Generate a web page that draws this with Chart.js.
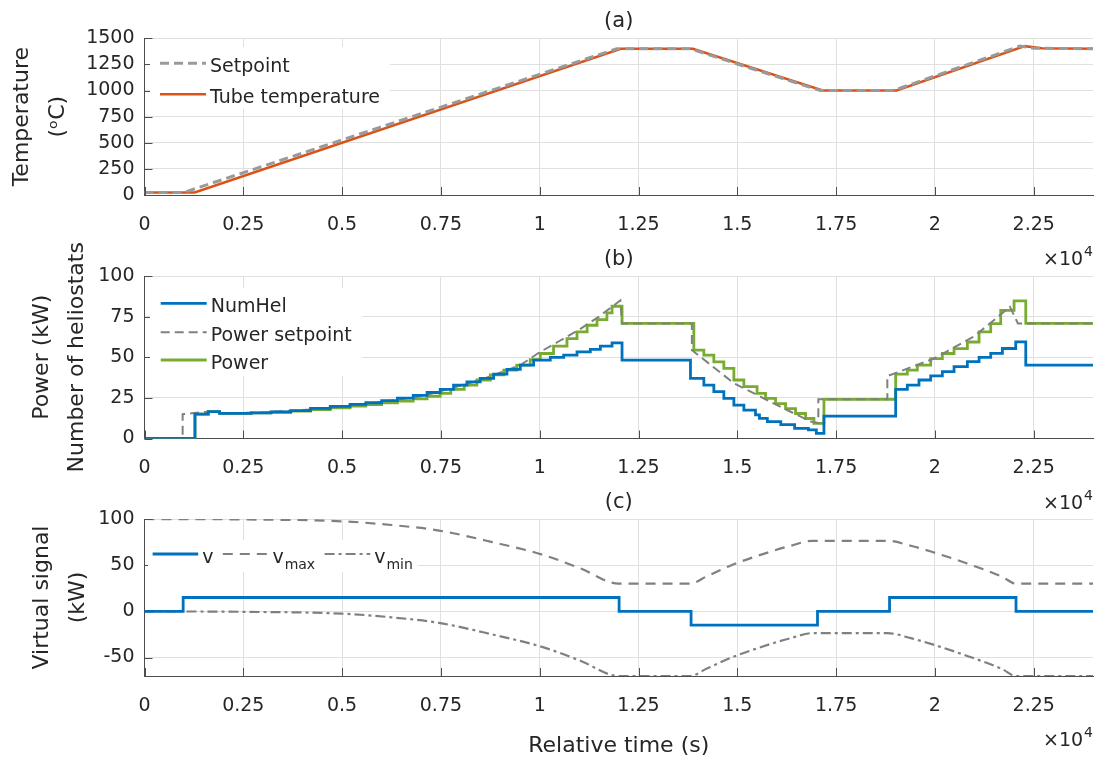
<!DOCTYPE html>
<html>
<head>
<meta charset="utf-8">
<title>Temperature, power and virtual signal</title>
<script src="https://cdn.jsdelivr.net/npm/chart.js@4.4.0/dist/chart.umd.min.js"></script>
<style>
    html, body { margin: 0; padding: 0; background: #fff; }
    #wrap { position: relative; width: 1095px; height: 762px; overflow: hidden; }
    #wrap canvas { position: absolute; left: 0; top: 0; }
</style>
</head>
<body>
<div id="wrap">
    <canvas id="chartA" width="1095" height="762"></canvas>
    <canvas id="chartB" width="1095" height="762"></canvas>
    <canvas id="chartC" width="1095" height="762"></canvas>
</div>
<script>
// tick positions (time in seconds, shown as x10^4)
var timeTicks = [0, 2500, 5000, 7500, 10000, 12500, 15000, 17500, 20000, 22500];
var tempTicks = [0, 250, 500, 750, 1000, 1250, 1500];
var powerTicks = [0, 25, 50, 75, 100];
var virtualTicks = [-50, 0, 50, 100];

// (a) temperatures
var tempSetpointTime = [0, 1000, 11950, 13800, 17100, 18950, 22150, 22500, 24000];
var tempSetpoint = [25, 25, 1400, 1400, 1000, 1000, 1425, 1405, 1400];
var tubeTempTime = [0, 1270, 12050, 13875, 17160, 19030, 22275, 22700, 24000];
var tubeTemp = [25, 25, 1400, 1400, 1000, 1000, 1425, 1405, 1400];

// (b) heliostats and power (step signals)
var numHelTime = [0, 1277, 1614, 1900, 2700, 3200, 3700, 4200, 4700, 5200,
    5600, 6000, 6400, 6800, 7150, 7482, 7820, 8158, 8495, 8833,
    9171, 9509, 9846, 10268, 10606, 10944, 11281, 11535, 11830, 12083,
    13815, 14153, 14406, 14659, 14913, 15166, 15460, 15560, 15760, 16100,
    16450, 16800, 17000, 17192, 19007, 19302, 19597, 19893, 20188, 20484,
    20821, 21117, 21412, 21708, 22045, 22299, 24000];
var numHel = [0, 15, 16.5, 15.5, 15.8, 16.3, 17.2, 18.5, 19.8, 21,
    22, 23.3, 24.8, 26.5, 28.3, 30.2, 32.9, 34.9, 37, 39.6,
    42.5, 45.1, 48.2, 49.9, 51.3, 53.3, 54.8, 56.9, 58.9, 48.2,
    37, 32.9, 28.8, 24.7, 20.6, 17.5, 14.5, 12.4, 10.4, 8.6,
    6.2, 5.3, 3.2, 13.8, 30.2, 32.9, 36, 38.5, 41.2, 44.2,
    47.3, 49.9, 52.4, 55.4, 59.5, 45.2, 45.2];

var powerTime = [0, 1277, 1614, 1900, 2700, 3200, 3700, 4200, 4700, 5200,
    5600, 6000, 6400, 6800, 7150, 7482, 7750, 8090, 8410, 8750,
    9090, 9420, 9760, 10014, 10350, 10690, 10944, 11200, 11450, 11700,
    11830, 12083, 13900, 14153, 14406, 14659, 14913, 15166, 15500, 15714,
    15968, 16221, 16474, 16728, 16939, 17192, 19007, 19302, 19555, 19893,
    20188, 20484, 20821, 21117, 21412, 21665, 22003, 22299, 24000];
var power = [0, 15, 16.5, 15.5, 15.8, 16.2, 16.8, 17.8, 18.9, 19.9,
    20.9, 21.9, 23, 24.4, 26, 27.8, 30.2, 32.9, 36, 39.1,
    42.1, 45.1, 48.6, 52.3, 56.9, 61.5, 65.6, 69.7, 73.2, 77.3,
    81.4, 70.8, 54.4, 51.3, 47.2, 43.1, 36, 31.9, 27.8, 24.7,
    21.5, 18.4, 15.4, 12.3, 9.3, 24.1, 39.6, 42.1, 45.1, 49.2,
    52.3, 55.3, 59.4, 65.6, 70.7, 78.9, 84.7, 70.8, 70.8];

var powerSetpointTime = [0, 965, 965, 1614, 1900, 3000, 4000, 5000, 6000, 7000,
    7482, 8500, 9500, 10014, 10500, 11000, 11500, 12040, 12083, 13850,
    13850, 14913, 15840, 16854, 17050, 17050, 18796, 18796, 19978, 21000,
    21900, 22100, 24000];
var powerSetpoint = [0, 0, 15, 16.5, 15.5, 16, 17.5, 19.5, 22.5, 26,
    29, 36, 45, 53.3, 60, 67, 75, 85, 70.8, 70.8,
    54.4, 34, 22.6, 10.4, 9.5, 24.1, 24.1, 38.4, 49.2, 63,
    81, 70.8, 70.8];

// (c) virtual signal and its bounds
var vTime = [0, 978, 12009, 13830, 17029, 18852, 22052, 24000];
var v = [0, 15, 0, -15, 0, 15, 0, 0];
var vBoundTime = [0, 2500, 5000, 6250, 7450, 8800, 10100, 11030, 12000, 13800,
    14230, 14850, 15830, 16350, 16900, 18800, 19390, 19920, 20800, 21700,
    22050, 24000];
var vMax = [100, 99.5, 97.5, 93.5, 87.5, 75, 61, 46.5, 30, 30,
    38, 50, 64.5, 71, 76.4, 76.4, 71, 64.5, 52, 37.5,
    30, 30];
var vMin = [0, -0.5, -2.5, -6.5, -12.5, -25, -39, -53.5, -70, -70,
    -62, -50, -35.5, -29, -23.6, -23.6, -29, -35.5, -48, -62.5,
    -70, -70];

var FONT = "'DejaVu Sans', sans-serif";
var TEXT = '#262626';
var GRID = '#e0e0e0';
var AXIS = '#4d4d4d';
var PLOT_LEFT = 144.5;
var PLOT_RIGHT = 1093;

var toPoints = function(times, values) {
    return times.map(function(t, i) {
        return { x: t, y: values[i] };
    });
};

var fixedTicks = function(list) {
    return function(scale) {
        scale.ticks = list.map(function(value) { return { value: value }; });
    };
};

// panel letter, x10^4 multiplier, inward ticks and the legend
var decorPlugin = {
    id: 'decor',
    afterDatasetsDraw: function(chart, args, opts) {
        var ctx = chart.ctx;
        var area = chart.chartArea;
        var xs = chart.scales.x;
        var ys = chart.scales.y;

        ctx.save();
        ctx.strokeStyle = AXIS;
        ctx.lineWidth = 1;
        ctx.setLineDash([]);
        ctx.beginPath();
        ys.ticks.forEach(function(t) {
            var py = Math.round(ys.getPixelForValue(t.value)) + 0.5;
            ctx.moveTo(area.left, py);
            ctx.lineTo(area.left + 8, py);
        });
        xs.ticks.forEach(function(t) {
            var px = Math.round(xs.getPixelForValue(t.value)) + 0.5;
            ctx.moveTo(px, area.bottom);
            ctx.lineTo(px, area.bottom - 8);
        });
        ctx.stroke();

        var lg = opts.legend;
        if (lg) {
            ctx.fillStyle = '#fff';
            ctx.fillRect(lg.box[0], lg.box[1], lg.box[2], lg.box[3]);
            lg.items.forEach(function(it) {
                var ds = chart.data.datasets[it.dataset];
                var parts = ds.label.split('_');
                ctx.strokeStyle = ds.borderColor;
                ctx.lineWidth = ds.borderWidth;
                ctx.setLineDash(ds.borderDash || []);
                ctx.beginPath();
                ctx.moveTo(it.x, it.y);
                ctx.lineTo(it.x + lg.lineLength, it.y);
                ctx.stroke();

                var tx = it.x + lg.lineLength + 4;
                ctx.fillStyle = TEXT;
                ctx.textAlign = 'left';
                ctx.textBaseline = 'alphabetic';
                ctx.font = '19px ' + FONT;
                ctx.fillText(parts[0], tx, it.y + 9);
                if (parts[1]) {
                    var w = ctx.measureText(parts[0]).width;
                    ctx.font = '14px ' + FONT;
                    ctx.fillText(parts[1], tx + w + 1, it.y + 15);
                }
            });
        }
        ctx.restore();
    },
    afterDraw: function(chart, args, opts) {
        var ctx = chart.ctx;
        var area = chart.chartArea;
        ctx.save();
        ctx.fillStyle = TEXT;
        ctx.textBaseline = 'alphabetic';
        ctx.textAlign = 'center';
        ctx.font = '21px ' + FONT;
        ctx.fillText(opts.title, (area.left + area.right) / 2, area.top - 11);

        var base = area.bottom + 70;
        ctx.textAlign = 'right';
        ctx.font = '14px ' + FONT;
        ctx.fillText('4', area.right, base - 9);
        var w4 = ctx.measureText('4').width;
        ctx.font = '19px ' + FONT;
        ctx.fillText('\u00d710', area.right - w4 - 1, base);
        ctx.restore();
    }
};

var tickFont = { family: FONT, size: 19 };

var makePanel = function(canvasId, p) {
    var config = {
        type: 'line',
        data: { datasets: p.datasets },
        plugins: [decorPlugin],
        options: {
            responsive: false,
            animation: false,
            devicePixelRatio: 1,
            events: [],
            layout: {
                padding: { left: 0, right: 1095 - PLOT_RIGHT, top: p.top, bottom: 762 - p.bottom - p.xHeight }
            },
            elements: {
                point: { radius: 0 },
                line: { tension: 0, borderCapStyle: 'butt' }
            },
            plugins: {
                legend: { display: false },
                tooltip: { enabled: false },
                decor: { title: p.title, legend: p.legend }
            },
            scales: {
                x: {
                    type: 'linear',
                    min: 0,
                    max: 24000,
                    afterBuildTicks: fixedTicks(timeTicks),
                    afterFit: function(scale) { scale.height = p.xHeight; },
                    ticks: {
                        autoSkip: false,
                        maxRotation: 0,
                        padding: 18.5,
                        color: TEXT,
                        font: tickFont,
                        callback: function(value) { return String(+(value / 10000).toFixed(2)); }
                    },
                    grid: { color: GRID, drawTicks: false },
                    border: { color: AXIS },
                    title: p.xTitle ? {
                        display: true,
                        text: p.xTitle,
                        color: TEXT,
                        padding: 0,
                        font: { family: FONT, size: 22 }
                    } : { display: false }
                },
                y: {
                    type: 'linear',
                    min: p.yMin,
                    max: p.yMax,
                    afterBuildTicks: fixedTicks(p.yTicks),
                    afterFit: function(scale) { scale.width = PLOT_LEFT; },
                    ticks: {
                        padding: 10,
                        color: TEXT,
                        font: tickFont,
                        callback: function(value) { return String(value); }
                    },
                    grid: { color: GRID, drawTicks: false },
                    border: { color: AXIS },
                    title: {
                        display: true,
                        text: p.yTitle,
                        color: TEXT,
                        padding: { top: p.yTitlePad, bottom: 0 },
                        font: { family: FONT, size: 22, lineHeight: p.yTitleLine }
                    }
                }
            }
        }
    };

    return new Chart(document.getElementById(canvasId).getContext('2d'), config);
};

makePanel('chartA', {
    title: '(a)',
    top: 38.3, bottom: 195, xHeight: 40,
    yMin: 0, yMax: 1500, yTicks: tempTicks,
    yTitle: ['Temperature', '(\u1d52C)'], yTitlePad: 4, yTitleLine: 36 / 22,
    datasets: [{
        label: 'Setpoint',
        data: toPoints(tempSetpointTime, tempSetpoint),
        borderColor: '#9a9a9a',
        borderWidth: 3,
        borderDash: [9, 5]
    }, {
        label: 'Tube temperature',
        data: toPoints(tubeTempTime, tubeTemp),
        borderColor: '#D95319',
        borderWidth: 2.5
    }],
    legend: {
        box: [150, 47, 240, 62],
        lineLength: 46,
        items: [
            { dataset: 0, x: 160, y: 63.3 },
            { dataset: 1, x: 160, y: 94.3 }
        ]
    }
});

makePanel('chartB', {
    title: '(b)',
    top: 276, bottom: 438.5, xHeight: 40,
    yMin: 0, yMax: 100, yTicks: powerTicks,
    yTitle: ['Power (kW)', 'Number of heliostats'], yTitlePad: 25.25, yTitleLine: 34.5 / 22,
    datasets: [{
        label: 'NumHel',
        data: toPoints(numHelTime, numHel),
        borderColor: '#0072BD',
        borderWidth: 2.8,
        stepped: true
    }, {
        label: 'Power setpoint',
        data: toPoints(powerSetpointTime, powerSetpoint),
        borderColor: '#808080',
        borderWidth: 2,
        borderDash: [9, 5]
    }, {
        label: 'Power',
        data: toPoints(powerTime, power),
        borderColor: '#77AC30',
        borderWidth: 2.8,
        stepped: true
    }],
    legend: {
        box: [150, 288, 212, 88],
        lineLength: 46,
        items: [
            { dataset: 0, x: 160.7, y: 303.3 },
            { dataset: 1, x: 160.7, y: 332.3 },
            { dataset: 2, x: 160.7, y: 360 }
        ]
    }
});

makePanel('chartC', {
    title: '(c)',
    top: 519, bottom: 676, xHeight: 83,
    xTitle: 'Relative time (s)',
    yMin: -70, yMax: 100, yTicks: virtualTicks,
    yTitle: ['Virtual signal', '(kW)'], yTitlePad: 24, yTitleLine: 36 / 22,
    datasets: [{
        label: 'v',
        data: toPoints(vTime, v),
        borderColor: '#0072BD',
        borderWidth: 2.8,
        stepped: true
    }, {
        label: 'v_max',
        data: toPoints(vBoundTime, vMax),
        borderColor: '#808080',
        borderWidth: 2.2,
        borderDash: [10, 7],
        cubicInterpolationMode: 'monotone'
    }, {
        label: 'v_min',
        data: toPoints(vBoundTime, vMin),
        borderColor: '#808080',
        borderWidth: 2.2,
        borderDash: [10, 4, 3, 4],
        cubicInterpolationMode: 'monotone'
    }],
    legend: {
        box: [148, 540, 270, 32],
        lineLength: 45.6,
        items: [
            { dataset: 0, x: 152.6, y: 554 },
            { dataset: 1, x: 222.8, y: 554 },
            { dataset: 2, x: 324.6, y: 554 }
        ]
    }
});
</script>
</body>
</html>
